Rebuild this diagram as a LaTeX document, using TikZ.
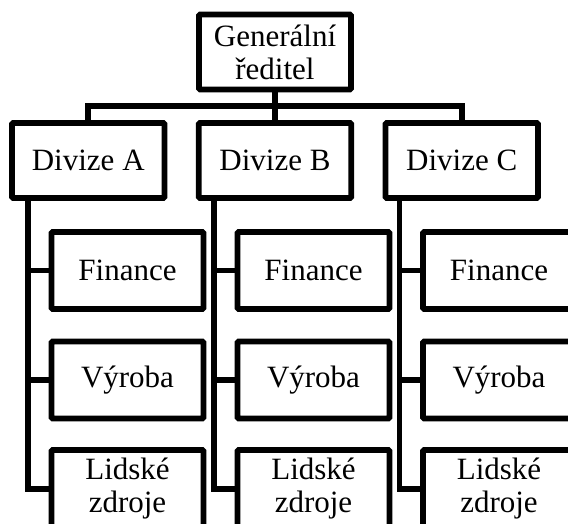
\documentclass[tikz,border=0pt]{standalone}
\usepackage{fontspec}
\setmainfont{Liberation Serif}
\usetikzlibrary{calc}
\begin{document}
\begin{tikzpicture}[x=1pt,y=-1pt,
  unit/.style={draw=black, line width=5.7pt, rounded corners=1.2pt, fill=white,
    inner sep=0pt, outer sep=0pt, align=center,
    font=\fontsize{31}{33}\selectfont},
  topbox/.style={unit, minimum width=152pt, minimum height=75pt},
  divbox/.style={unit, minimum width=152.5pt, minimum height=75pt},
  subbox/.style={unit, minimum width=152pt, minimum height=77pt},
  link/.style={draw=black, line width=5.7pt}]
\clip (0,0) rectangle (568,524);
\fill[white] (0,0) rectangle (568,524);

% director
\node[topbox] (gen) at (275,52) {Generální\\ředitel};

% divisions
\node[divbox] (divA) at (88.25,160.5) {Divize A};
\node[divbox] (divB) at (275,160.5) {Divize B};
\node[divbox] (divC) at (461.75,160.5) {Divize C};

% departments of each division
\foreach \d/\x in {A/127.5, B/313.5, C/499}{
  \node[subbox] (fin\d) at (\x,270.5) {Finance};
  \node[subbox] (vyr\d) at (\x,380) {Výroba};
  \node[subbox, minimum height=78pt] (lid\d) at (\x,489) {Lidské\\zdroje};
}

% bus from the director to the divisions
\coordinate (bus) at ($(gen.south)!0.5!(divB.north)$);
\draw[link] (gen.south) -- (divB.north);
\draw[link] (divA.north) |- (bus) -| (divC.north);

% spines from each division down to its departments
\foreach \d/\off in {A/16, B/15.5, C/14}{
  \coordinate (sp\d) at ([xshift=\off pt]div\d.south west);
  \draw[link] (sp\d) |- (lid\d.west);
  \draw[link] (sp\d) |- (fin\d.west);
  \draw[link] (sp\d) |- (vyr\d.west);
}
\end{tikzpicture}
\end{document}
